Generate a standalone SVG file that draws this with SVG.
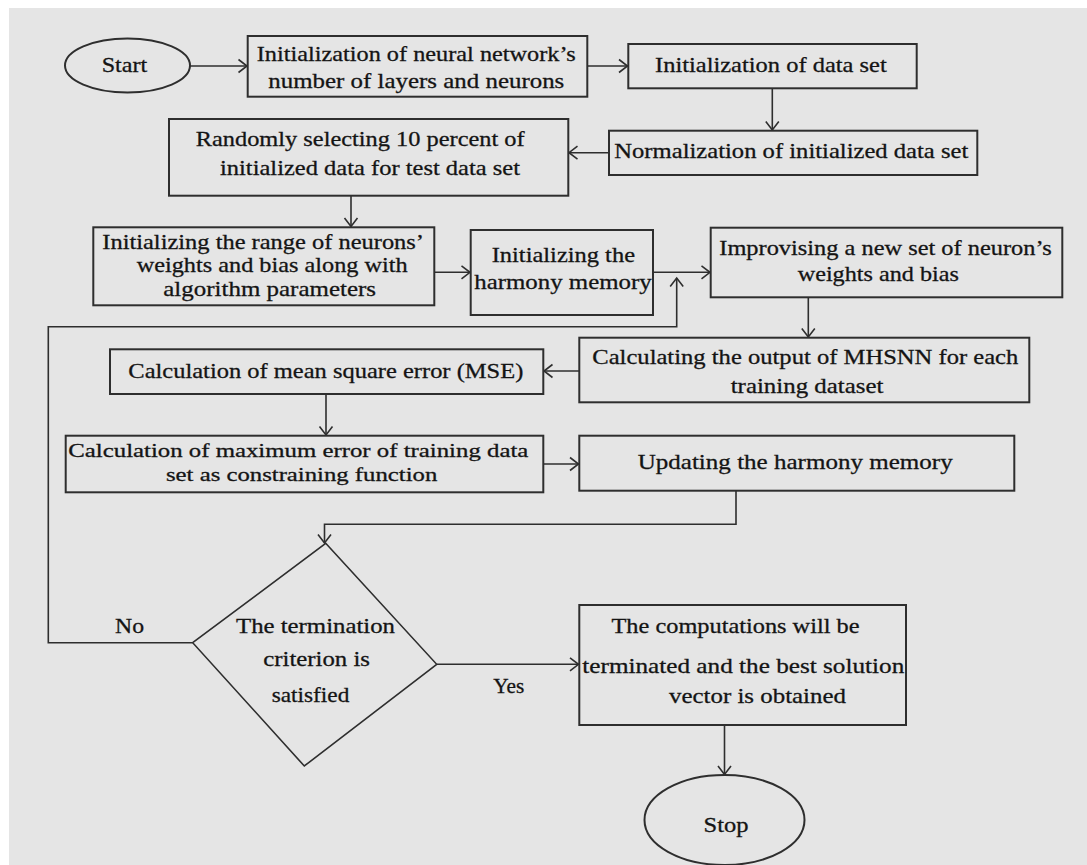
<svg xmlns="http://www.w3.org/2000/svg" width="1087" height="865" viewBox="0 0 1087 865">
<style>
.bg{fill:#e5e5e5}
.box{fill:#e5e5e5;stroke:#2e2e2e;stroke-width:2}
.dia{fill:#e5e5e5;stroke:#2e2e2e;stroke-width:1.6}
.c{fill:none;stroke:#2e2e2e;stroke-width:1.6}
.t{font-family:"Liberation Serif","Times New Roman",serif;font-size:22px;fill:#141414;stroke:#141414;stroke-width:0.3}
.s{font-size:19.5px}
</style>
<defs>
<marker id="ah" markerUnits="userSpaceOnUse" markerWidth="20" markerHeight="20" viewBox="-12 -10 14 20" refX="0" refY="0" orient="auto">
<path d="M-8.5,-6.5 L0,0 L-8.5,6.5" fill="none" stroke="#2e2e2e" stroke-width="1.6"/>
</marker>
</defs>
<rect x="0" y="0" width="1087" height="865" fill="#ffffff"/>
<rect class="bg" x="9" y="8" width="1078" height="857"/>

<g id="connectors">
<path class="c" d="M190,66 H247" marker-end="url(#ah)"/>
<path class="c" d="M587.3,66 H627.5" marker-end="url(#ah)"/>
<path class="c" d="M772.3,88.3 V130" marker-end="url(#ah)"/>
<path class="c" d="M609,152.7 H569" marker-end="url(#ah)"/>
<path class="c" d="M351,195.7 V226.5" marker-end="url(#ah)"/>
<path class="c" d="M434.3,272.3 H470" marker-end="url(#ah)"/>
<path class="c" d="M653,272.3 H710" marker-end="url(#ah)"/>
<path class="c" d="M808.3,297.3 V337" marker-end="url(#ah)"/>
<path class="c" d="M579.3,371 H544" marker-end="url(#ah)"/>
<path class="c" d="M326,394 V435" marker-end="url(#ah)"/>
<path class="c" d="M543.3,464 H578.5" marker-end="url(#ah)"/>
<path class="c" d="M736,490.7 V524.3 H324.5 V543" marker-end="url(#ah)"/>
<path class="c" d="M192.7,642.7 H48.3 V326.7 H676.7 V278" marker-end="url(#ah)"/>
<path class="c" d="M436.7,664.3 H578.5" stroke-width="2.2" marker-end="url(#ah)"/>
<path class="c" d="M724.5,725 V774.5" marker-end="url(#ah)"/>
</g>

<g id="start">
<ellipse class="box" cx="127.5" cy="65.5" rx="62.5" ry="27" stroke-width="1.6"/>
<text class="t" x="101.7" y="71.7" textLength="45.6" lengthAdjust="spacingAndGlyphs">Start</text>
</g>

<g id="init-network">
<rect class="box" x="247.7" y="36" width="339.6" height="60.7"/>
<text class="t" x="256.7" y="60.7" textLength="319" lengthAdjust="spacingAndGlyphs">Initialization of neural network’s</text>
<text class="t" x="268.3" y="88.3" textLength="296" lengthAdjust="spacingAndGlyphs">number of layers and neurons</text>
</g>

<g id="init-dataset">
<rect class="box" x="628.3" y="44" width="288.4" height="44.3"/>
<text class="t" x="655" y="71.7" textLength="231.7" lengthAdjust="spacingAndGlyphs">Initialization of data set</text>
</g>

<g id="normalization">
<rect class="box" x="609" y="130.7" width="368.3" height="44.3"/>
<text class="t" x="614.3" y="157.7" textLength="354" lengthAdjust="spacingAndGlyphs">Normalization of initialized data set</text>
</g>

<g id="random-select">
<rect class="box" x="169" y="119" width="399.3" height="76.7"/>
<text class="t" x="195.7" y="146" textLength="329" lengthAdjust="spacingAndGlyphs">Randomly selecting 10 percent of</text>
<text class="t" x="220" y="175" textLength="300" lengthAdjust="spacingAndGlyphs">initialized data for test data set</text>
</g>

<g id="init-range">
<rect class="box" x="93.3" y="227.3" width="341" height="78"/>
<text class="t" x="102.3" y="249.3" textLength="321.7" lengthAdjust="spacingAndGlyphs">Initializing the range of neurons’</text>
<text class="t" x="136.7" y="272.3" textLength="271" lengthAdjust="spacingAndGlyphs">weights and bias along with</text>
<text class="t" x="163.3" y="296" textLength="212.7" lengthAdjust="spacingAndGlyphs">algorithm parameters</text>
</g>

<g id="init-hm">
<rect class="box" x="470.7" y="230" width="182.3" height="85"/>
<text class="t" x="491.7" y="261.7" textLength="143.3" lengthAdjust="spacingAndGlyphs">Initializing the</text>
<text class="t" x="474.3" y="289.3" textLength="177.4" lengthAdjust="spacingAndGlyphs">harmony memory</text>
</g>

<g id="improvise">
<rect class="box" x="710.7" y="227.7" width="351.6" height="69.6"/>
<text class="t" x="719.3" y="255" textLength="332.4" lengthAdjust="spacingAndGlyphs">Improvising a new set of neuron’s</text>
<text class="t" x="797.7" y="280.7" textLength="161.3" lengthAdjust="spacingAndGlyphs">weights and bias</text>
</g>

<g id="calc-output">
<rect class="box" x="579.3" y="337.7" width="450" height="64.6"/>
<text class="t" x="592.3" y="364" textLength="426" lengthAdjust="spacingAndGlyphs">Calculating the output of MHSNN for each</text>
<text class="t" x="730.7" y="393.3" textLength="152.7" lengthAdjust="spacingAndGlyphs">training dataset</text>
</g>

<g id="calc-mse">
<rect class="box" x="110" y="349.3" width="433.3" height="44.7"/>
<text class="t" x="128.3" y="378.3" textLength="395" lengthAdjust="spacingAndGlyphs">Calculation of mean square error (MSE)</text>
</g>

<g id="calc-max">
<rect class="box" x="65.7" y="435.7" width="477.6" height="56.6"/>
<text class="t s" x="68.3" y="457" textLength="460" lengthAdjust="spacingAndGlyphs">Calculation of maximum error of training data</text>
<text class="t s" x="166" y="480.5" textLength="271.3" lengthAdjust="spacingAndGlyphs">set as constraining function</text>
</g>

<g id="update-hm">
<rect class="box" x="579.3" y="435.7" width="435" height="55"/>
<text class="t" x="637.7" y="469.3" textLength="315" lengthAdjust="spacingAndGlyphs">Updating the harmony memory</text>
</g>

<g id="decision">
<polygon class="dia" points="325.7,543.3 436.7,664.3 304.3,766 192.7,642.7"/>
<text class="t" x="236" y="633.3" textLength="159" lengthAdjust="spacingAndGlyphs">The termination</text>
<text class="t" x="263.3" y="665.7" textLength="106.7" lengthAdjust="spacingAndGlyphs">criterion is</text>
<text class="t" x="271.7" y="701.7" textLength="77.6" lengthAdjust="spacingAndGlyphs">satisfied</text>
</g>

<g id="labels">
<text class="t" x="115" y="633.3" textLength="29" lengthAdjust="spacingAndGlyphs">No</text>
<text class="t" x="493.3" y="693.3" textLength="31" lengthAdjust="spacingAndGlyphs">Yes</text>
</g>

<g id="terminate">
<rect class="box" x="579.3" y="605" width="326.7" height="120"/>
<text class="t" x="611.5" y="633.3" textLength="248" lengthAdjust="spacingAndGlyphs">The computations will be</text>
<text class="t" x="582.3" y="673.3" textLength="322" lengthAdjust="spacingAndGlyphs">terminated and the best solution</text>
<text class="t" x="669" y="703.3" textLength="177" lengthAdjust="spacingAndGlyphs">vector is obtained</text>
</g>

<g id="stop">
<ellipse class="box" cx="724.5" cy="820" rx="80" ry="45" stroke-width="1.6"/>
<text class="t" x="703.6" y="831.7" textLength="45" lengthAdjust="spacingAndGlyphs">Stop</text>
</g>
</svg>
